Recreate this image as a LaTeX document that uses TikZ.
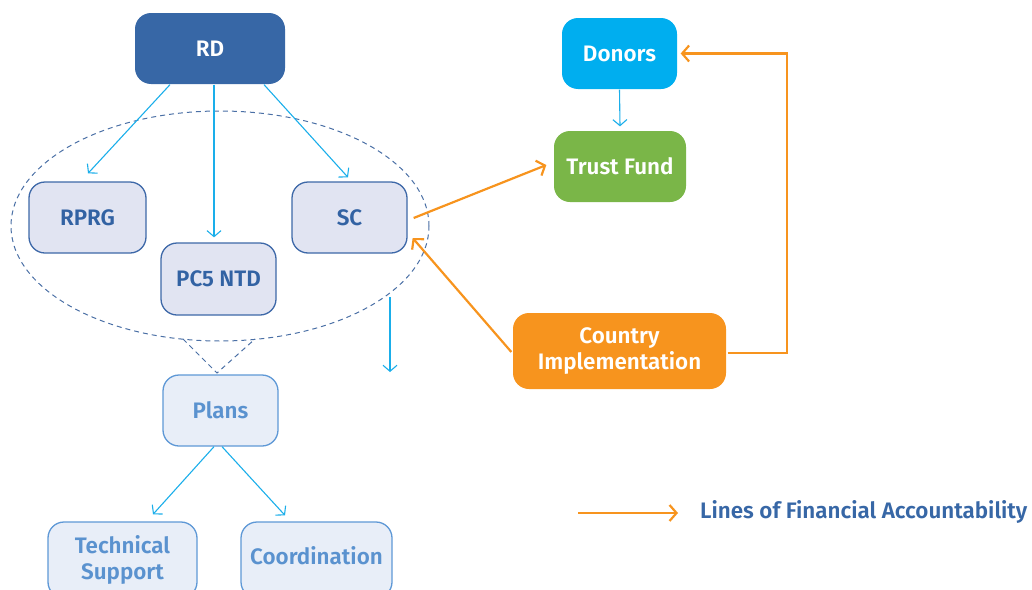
\documentclass[tikz,border=0pt]{standalone}
\usepackage{fontspec}
\setmainfont{Fira Sans}
\newfontfamily\labfont{Fira Sans SemiBold}
\usetikzlibrary{arrows.meta,calc,shapes.geometric}
\definecolor{rdblue}{HTML}{3767A6}
\definecolor{midfill}{HTML}{E1E4F2}
\definecolor{midline}{HTML}{3D68A8}
\definecolor{midtext}{HTML}{3262A3}
\definecolor{lowfill}{HTML}{E8EEF8}
\definecolor{lowline}{HTML}{5E98D6}
\definecolor{lowtext}{HTML}{5A92CF}
\definecolor{cyanarr}{HTML}{1AAEEA}
\definecolor{donor}{HTML}{00AEEF}
\definecolor{trust}{HTML}{7AB648}
\definecolor{orng}{HTML}{F7941E}
\definecolor{ellc}{HTML}{4A6FA5}
\tikzset{
  lab/.style={font=\labfont\fontsize{22.4}{26.8}\selectfont, align=center, inner sep=0pt},
  bx/.style={lab, rounded corners=16pt, line width=1.3pt},
  topbox/.style={bx, fill=rdblue, text=white},
  midbox/.style={bx, fill=midfill, draw=midline, text=midtext},
  lowbox/.style={bx, fill=lowfill, draw=lowline, text=lowtext},
  colbox/.style={bx, text=white, fill=#1},
  sz/.style 2 args={minimum width=#1, minimum height=#2},
  bluearr/.style={draw=cyanarr, line width=1.1pt, -{Straight Barb[length=6pt,width=14pt,line width=1.1pt]}},
  orarr/.style={draw=orng, line width=2.2pt, -{Straight Barb[length=7pt,width=16pt,line width=2.2pt]}},
}
\begin{document}
\begin{tikzpicture}[x=1pt,y=-1pt]
\useasboundingbox (0,0) rectangle (1032,589);
% ellipse
\node[draw=ellc, line width=1pt, dash pattern=on 5pt off 4pt, ellipse, minimum width=418pt, minimum height=230pt, inner sep=0pt] (ell) at (220,226) {};
\draw[draw=ellc, line width=1pt, dash pattern=on 5pt off 4pt] (183,339) coordinate (v1) -- (217,373) coordinate (v3) -- (255,339) coordinate (v2);
% nodes
\node[topbox, sz={150pt}{71pt}] (RD) at (210,48.5) {RD};
\node[midbox, sz={117pt}{71pt}] (RPRG) at (87.5,217.5) {RPRG};
\node[midbox, sz={115pt}{72pt}] (PC5) at (218.5,279) {PC5 NTD};
\node[midbox, sz={115pt}{71pt}] (SC) at (349.5,217.5) {SC};
\node[lowbox, sz={115pt}{71pt}] (Plans) at (220.5,410.5) {Plans};
\node[lowbox, sz={149pt}{76pt}] (Tech) at (122.5,560) {Technical\\Support};
\node[lowbox, sz={151pt}{76pt}] (Coord) at (316.5,560) {\raisebox{9pt}{Coordination}};
\node[colbox=donor, sz={115pt}{71pt}] (Donors) at (619.5,53.5) {Donors};
\node[colbox=trust, sz={132pt}{71pt}] (Trust) at (620,166.5) {Trust Fund};
\node[colbox=orng, sz={213pt}{76pt}] (Country) at (619.5,351) {Country\\Implementation};
% blue connectors
\draw[bluearr] ($(RD.south)+(-40,0)$) -- ($(RPRG.north)+(0.5,-8)$);
\draw[bluearr] ($(RD.south)+(4,0)$) -- ($(PC5.north)+(-4.5,-5)$);
\draw[bluearr] ($(RD.south)+(54,0)$) -- ($(SC.north)+(-1.5,-4)$);
\draw[bluearr] (Donors.south) -- ($(Trust.north)+(0,-4)$);
\coordinate (a1) at (390,297);
\coordinate (a2) at (390,372);
\draw[bluearr] (a1) -- (a2);
\draw[bluearr] ($(Plans.south)+(-6.5,0)$) -- ($(Tech.north)+(30.5,-7)$);
\draw[bluearr] ($(Plans.south)+(1.5,0)$) -- ($(Coord.north)+(-31.5,-6)$);
% orange connectors
\draw[orarr] ($(SC.east)+(6,0.5)$) -- ($(Trust.west)+(-7,-1.5)$);
\draw[orarr] ($(Country.west)+(-1,1)$) -- ($(SC.east)+(5,20.5)$);
\draw[orarr] ($(Country.east)+(1,2)$) -- ++(59,0) |- ($(Donors.east)+(3,0)$);
% legend
\coordinate (l1) at (578,513);
\coordinate (l2) at (678,513);
\draw[orarr] (l1) -- (l2);
\node[lab, text=rdblue, anchor=west] (leg) at (700,512) {Lines of Financial Accountability};
\end{tikzpicture}
\end{document}
